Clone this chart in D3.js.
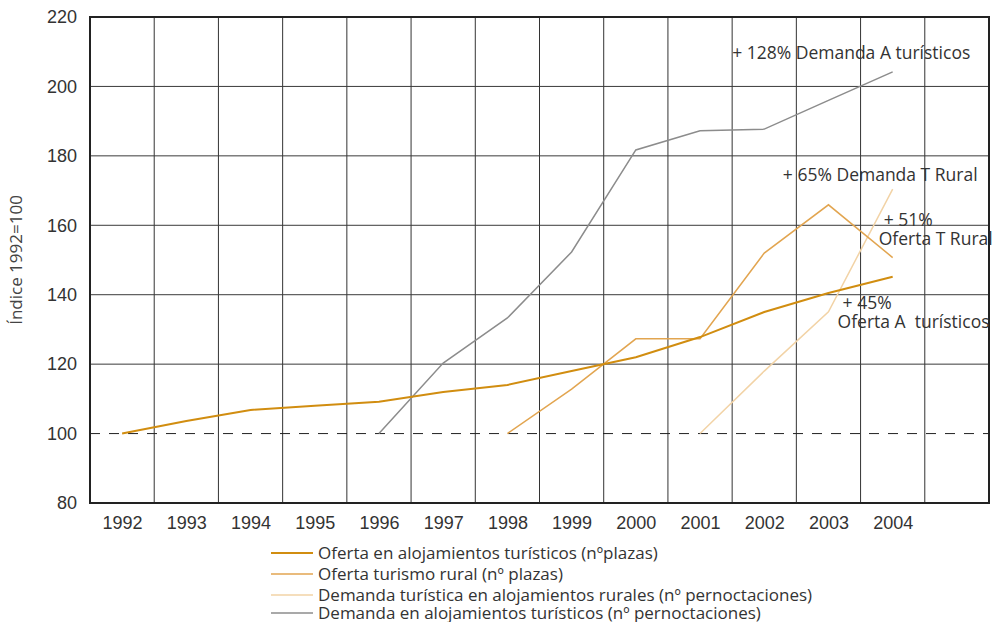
<!DOCTYPE html>
<html>
<head>
<meta charset="utf-8">
<script src="https://cdn.jsdelivr.net/npm/d3@7"></script>
<style>
  body { margin: 0; background: #fff; }
  svg { font-family: "Open Sans", "Noto Sans", sans-serif; }
</style>
</head>
<body>
<div id="chart"></div>
<script>
// ---- data ----
const years = [1992, 1993, 1994, 1995, 1996, 1997, 1998, 1999, 2000, 2001, 2002, 2003, 2004];
const yTicks = [80, 100, 120, 140, 160, 180, 200, 220];

const ofertaAloj = [100, 103.6, 106.8, 108, 109.2, 112, 114, 118, 122, 127.8, 135, 140.5, 145.2];
const ofertaRural = [null, null, null, null, null, null, 100, 112.8, 127.3, 127.3, 152, 165.9, 150.7];
const demandaRural = [null, null, null, null, null, null, null, null, null, 100, 118, 135.1, 170.4];
const demandaAloj = [null, null, null, null, 100, 120.3, 133.3, 152.3, 181.7, 187.2, 187.7, 196, 204.2];

const seriesNames = [
  "Oferta en alojamientos turísticos (nºplazas)",
  "Oferta turismo rural (nº plazas)",
  "Demanda turística en alojamientos rurales (nº pernoctaciones)",
  "Demanda en alojamientos turísticos (nº pernoctaciones)"
];

// annotation anchors in data units (year, index)
const notes = [
  { lines: ["+ 128% Demanda A turísticos"], x: 2001.5, y: 208 },
  { lines: ["+ 65% Demanda T Rural"], x: 2002.29, y: 172.8 },
  { lines: ["+ 51%", "Oferta T Rural"], x: 2003.86, y: 159.8 },
  { lines: ["+ 45%", "Oferta A  turísticos"], x: 2003.22, y: 135.9 }
];

// ---- layout ----
const W = 994, H = 622;
const plot = { left: 90, right: 989, top: 17, bottom: 503 };

const svg = d3.select("#chart").append("svg")
  .attr("width", W)
  .attr("height", H);

const x = d3.scaleLinear()
  .domain([1991.5, 2005.5])
  .range([plot.left, plot.right]);

const y = d3.scaleLinear()
  .domain([80, 220])
  .range([plot.bottom, plot.top]);

// grid: vertical lines on the year boundaries
const bounds = d3.range(1992.5, 2005.5, 1);
svg.append("g")
  .selectAll("line")
  .data(bounds)
  .join("line")
  .attr("x1", d => x(d)).attr("x2", d => x(d))
  .attr("y1", plot.top).attr("y2", plot.bottom)
  .attr("stroke", "#333")
  .attr("stroke-width", 1);

// horizontal grid
svg.append("g")
  .selectAll("line")
  .data(yTicks.filter(d => d > 80 && d < 220))
  .join("line")
  .attr("x1", plot.left).attr("x2", plot.right)
  .attr("y1", d => y(d)).attr("y2", d => y(d))
  .attr("stroke", d => d === 100 ? "#222" : "#3a3a3a")
  .attr("stroke-width", 1)
  .attr("stroke-dasharray", d => d === 100 ? "10,9" : null);

// frame
svg.append("rect")
  .attr("x", plot.left).attr("y", plot.top)
  .attr("width", plot.right - plot.left)
  .attr("height", plot.bottom - plot.top)
  .attr("fill", "none")
  .attr("stroke", "#222")
  .attr("stroke-width", 2);

// axes
const yAxis = svg.append("g")
  .attr("transform", `translate(${plot.left},0)`)
  .call(d3.axisLeft(y).tickValues(yTicks).tickSize(0).tickPadding(13));
yAxis.select(".domain").remove();
yAxis.selectAll("text")
  .style("font-size", "18px")
  .style("fill", "#333");

const xAxis = svg.append("g")
  .attr("transform", `translate(0,${plot.bottom})`)
  .call(d3.axisBottom(x).tickValues(years).tickFormat(d3.format("d")).tickSize(0).tickPadding(13));
xAxis.select(".domain").remove();
xAxis.selectAll("text")
  .style("font-size", "18px")
  .style("fill", "#333");

svg.append("text")
  .attr("transform", `translate(22,${(plot.top + plot.bottom) / 2}) rotate(-90)`)
  .attr("text-anchor", "middle")
  .style("font-size", "17px")
  .style("fill", "#444")
  .text("Índice 1992=100");

// lines
const series = [
  { name: seriesNames[3], values: demandaAloj, color: "#8c8c8c", width: 1.5 },
  { name: seriesNames[2], values: demandaRural, color: "#f2d3a6", width: 1.5 },
  { name: seriesNames[1], values: ofertaRural, color: "#e2a550", width: 1.5 },
  { name: seriesNames[0], values: ofertaAloj, color: "#d18d10", width: 2 }
];

const line = d3.line()
  .defined(d => d.v != null)
  .x(d => x(d.year))
  .y(d => y(d.v));

series.forEach(s => {
  svg.append("path")
    .datum(years.map((yr, i) => ({ year: yr, v: s.values[i] })))
    .attr("fill", "none")
    .attr("stroke", s.color)
    .attr("stroke-width", s.width)
    .attr("d", line);
});

// annotations
notes.forEach(n => {
  const t = svg.append("text")
    .attr("x", x(n.x))
    .attr("y", y(n.y))
    .style("font-size", "17.5px")
    .style("white-space", "pre")
    .style("fill", "#333");
  n.lines.forEach((l, i) => {
    t.append("tspan")
      .attr("x", i === 0 ? x(n.x) : x(n.x) - 5)
      .attr("dy", i === 0 ? 0 : 19)
      .text(l);
  });
});

// legend
const legendRows = [553, 574, 595, 613];
const legend = svg.append("g");
[...series].reverse().forEach((s, i) => {
  legend.append("line")
    .attr("x1", 271).attr("x2", 313)
    .attr("y1", legendRows[i]).attr("y2", legendRows[i])
    .attr("stroke", s.color)
    .attr("stroke-width", s.width);
  legend.append("text")
    .attr("x", 318)
    .attr("y", legendRows[i])
    .attr("dy", "0.35em")
    .style("font-size", "17px")
    .style("fill", "#333")
    .text(s.name);
});
</script>
</body>
</html>
